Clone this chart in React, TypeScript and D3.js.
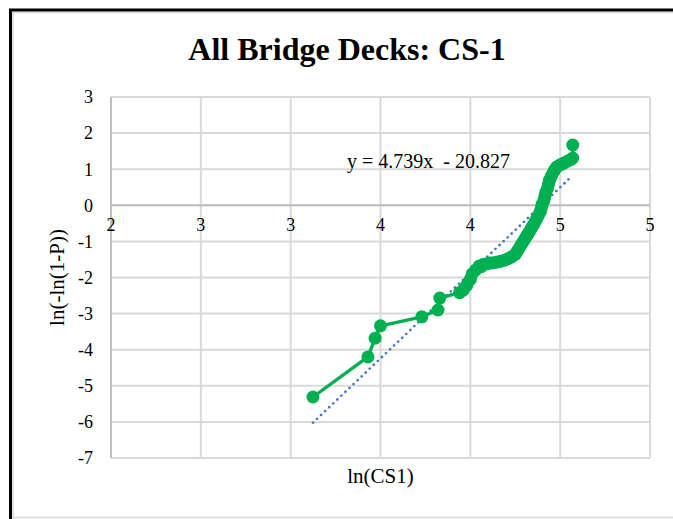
import React from "react";
import * as d3 from "d3";

const title = "All Bridge Decks: CS-1";
const xAxisTitle = "ln(CS1)";
const yAxisTitle = "ln(-ln(1-P))";
const equationText = "y = 4.739x  - 20.827";
const trendSlope = 4.739;
const trendIntercept = -20.827;

const xTicks = [2, 2.5, 3, 3.5, 4, 4.5, 5];
const xTickLabels = ["2", "3", "3", "4", "4", "5", "5"];
const yTicks = [3, 2, 1, 0, -1, -2, -3, -4, -5, -6, -7];

const lnCS1 = [
  3.124, 3.43, 3.47, 3.5, 3.73, 3.82, 3.83, 3.94, 3.96, 3.98, 4.0, 4.01, 4.03,
  4.05, 4.06, 4.07, 4.09, 4.11, 4.13, 4.15, 4.17, 4.19, 4.21, 4.23, 4.25, 4.26, 4.27,
  4.28, 4.29, 4.3, 4.31, 4.32, 4.33, 4.34, 4.35, 4.36, 4.37, 4.38, 4.39, 4.395,
  4.4, 4.41, 4.415, 4.42, 4.43, 4.435, 4.44, 4.45, 4.46, 4.47, 4.48, 4.5, 4.52,
  4.54, 4.56, 4.57, 4.57,
];
const lnlnP = [
  -5.31, -4.2, -3.68, -3.34, -3.09, -2.9, -2.57, -2.42, -2.35, -2.22, -2.05,
  -1.9, -1.79, -1.68, -1.7, -1.64, -1.62, -1.6, -1.59, -1.57, -1.55, -1.52, -1.48,
  -1.43, -1.36, -1.28, -1.2, -1.12, -1.04, -0.96, -0.88, -0.8, -0.72, -0.63,
  -0.55, -0.46, -0.37, -0.27, -0.17, -0.07, 0.03, 0.14, 0.25, 0.36, 0.47, 0.58,
  0.69, 0.8, 0.9, 0.99, 1.06, 1.12, 1.17, 1.22, 1.27, 1.31, 1.67,
];

export default function App() {
  const W = 673;
  const H = 519;
  const left = 111, right = 650, top = 97, bottom = 458;
  const x = d3.scaleLinear().domain([2, 5]).range([left, right]);
  const y = d3.scaleLinear().domain([-7, 3]).range([bottom, top]);
  const pts = lnCS1.map((v, i) => [v, lnlnP[i]] as [number, number]);
  const line = d3
    .line<[number, number]>()
    .x((d) => x(d[0]))
    .y((d) => y(d[1]));
  const xMin = d3.min(lnCS1)!;
  const xMax = d3.max(lnCS1)!;
  const trend: [number, number][] = [
    [xMin, trendSlope * xMin + trendIntercept],
    [xMax - 0.015, trendSlope * (xMax - 0.015) + trendIntercept],
  ];
  const serif = "'Liberation Serif', 'Times New Roman', serif";
  const grid = "#d9d9d9";
  return (
    <svg
      width={W}
      height={H}
      style={{ position: "absolute", left: 0, top: 0, background: "#fff" }}
      fontFamily={serif}
    >
      <rect x={0} y={0} width={W} height={H} fill="#fff" />
      <rect x={13} y={12.5} width={W + 20} height={505} fill="none" stroke={grid} strokeWidth={1.5} />
      <rect x={10.5} y={10} width={W + 20} height={H + 20} fill="none" stroke="#000" strokeWidth={3} />
      <text x={347} y={60} textAnchor="middle" fontSize={32} fontWeight="bold" fill="#000">
        {title}
      </text>
      {yTicks.map((t) => (
        <line key={"hy" + t} x1={left} x2={right} y1={y(t)} y2={y(t)} stroke={grid} strokeWidth={2} />
      ))}
      {xTicks.map((t) => (
        <line key={"vx" + t} x1={x(t)} x2={x(t)} y1={top} y2={bottom} stroke={grid} strokeWidth={2} />
      ))}
      <line x1={left} x2={right} y1={y(0)} y2={y(0)} stroke="#bfbfbf" strokeWidth={2} />
      <line x1={left} x2={left} y1={top} y2={bottom} stroke="#bfbfbf" strokeWidth={2} />
      {yTicks.map((t) => (
        <text key={"ly" + t} x={93} y={y(t)} dy="0.35em" textAnchor="end" fontSize={18} fill="#000">
          {t < 0 ? "-" + Math.abs(t) : String(t)}
        </text>
      ))}
      {xTicks.map((t, i) => (
        <text key={"lx" + t} x={x(t)} y={y(0) + 26} textAnchor="middle" fontSize={18} fill="#000">
          {xTickLabels[i]}
        </text>
      ))}
      <path d={line(trend) || ""} fill="none" stroke="#4472C4" strokeWidth={2.6} strokeDasharray="0.1 5.5" strokeLinecap="round" />
      <path d={line(pts) || ""} fill="none" stroke="#00B050" strokeWidth={3.3} strokeLinejoin="round" />
      {pts.map((p, i) => (
        <circle key={"c" + i} cx={x(p[0])} cy={y(p[1])} r={6.5} fill="#00B050" />
      ))}
      <text x={347} y={168} fontSize={20} fill="#000" style={{ whiteSpace: "pre" }}>
        {equationText}
      </text>
      <text x={(left + right) / 2} y={483} textAnchor="middle" fontSize={21} fill="#000">
        {xAxisTitle}
      </text>
      <text
        transform={`translate(64, ${(top + bottom) / 2}) rotate(-90)`}
        textAnchor="middle"
        fontSize={21}
        fill="#000"
      >
        {yAxisTitle}
      </text>
    </svg>
  );
}
